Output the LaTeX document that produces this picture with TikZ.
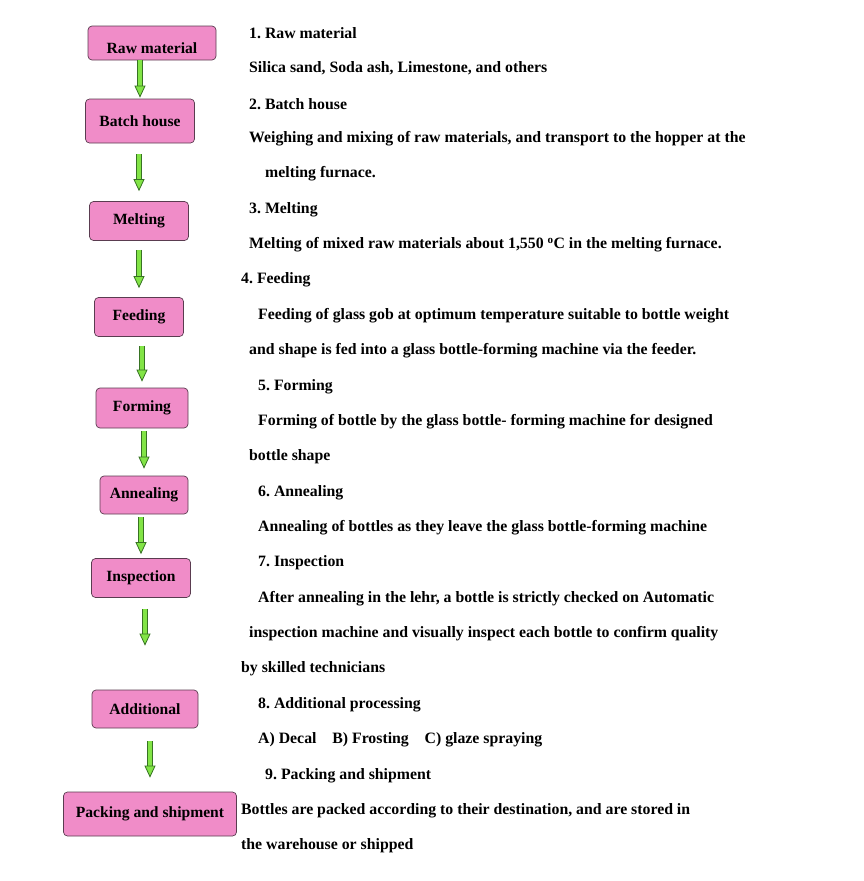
\documentclass[tikz,border=0pt]{standalone}
\usepackage{fontspec}
\setmainfont{Liberation Serif}
\usetikzlibrary{arrows.meta}
\definecolor{boxpink}{RGB}{240,140,200}
\definecolor{boxedge}{RGB}{90,60,80}
\definecolor{arrowfill}{RGB}{130,228,70}
\definecolor{arrowedge}{RGB}{55,115,35}
\frenchspacing

\begin{document}
\begin{tikzpicture}[x=1pt, y=-1pt,
    stage/.style={draw=boxedge, fill=boxpink, rounded corners=4pt, line width=0.7pt,
        inner sep=0pt, font=\fontsize{15.6}{18}\selectfont\bfseries},
    flow/.style={draw=arrowedge, line width=0.8pt, double=arrowfill, double distance=4pt,
        -{Triangle[length=12pt, width=11pt, fill=arrowfill]}},
    desc/.style={anchor=west, inner sep=0pt, font=\fontsize{15.8}{18}\selectfont\bfseries}]
\useasboundingbox (0,0) rectangle (863,881);
% process boxes
\node[stage, minimum width=128pt, minimum height=34pt, text height=21pt, text depth=0pt] (raw) at (152,43) {Raw material};
\node[stage, minimum width=109pt, minimum height=44pt] (batch) at (140,121) {Batch house};
\node[stage, minimum width=99pt, minimum height=39pt] (melt) at (139,221) {Melting};
\node[stage, minimum width=89pt, minimum height=39pt] (feed) at (139,317) {Feeding};
\node[stage, minimum width=92pt, minimum height=40pt] (form) at (142,408) {Forming};
\node[stage, minimum width=88pt, minimum height=38pt] (anneal) at (144,495) {Annealing};
\node[stage, minimum width=99pt, minimum height=39pt] (inspect) at (141,578) {Inspection};
\node[stage, minimum width=106pt, minimum height=38pt] (extra) at (145,709) {Additional};
\node[stage, minimum width=173pt, minimum height=44pt] (pack) at (150,814) {Packing and shipment};
% flow arrows
\foreach \a/\b/\s/\t in {raw/batch/0/1, batch/melt/11/10, melt/feed/9/9, feed/form/9/6,
    form/anneal/3/7, anneal/inspect/3/4, inspect/extra/11/44, extra/pack/13/14} {
    \draw[flow, shorten <=\s pt, shorten >=\t pt] (\a.south -| \b.north) -- (\b.north);
}
% description lines
\foreach \i/\x/\y/\txt in {
    1/249/33/{1. Raw material},
    2/249/68/{Silica sand, Soda ash, Limestone, and others},
    3/249/104/{2. Batch house},
    4/249/139/{Weighing and mixing of raw materials, and transport to the hopper at the},
    5/265/174/{melting furnace.},
    6/249/210/{3. Melting},
    7/249/245/{Melting of mixed raw materials about 1,550 \textsuperscript{o}C in the melting furnace.},
    8/241/280/{4. Feeding},
    9/258/316/{Feeding of glass gob at optimum temperature suitable to bottle weight},
    10/249/351/{and shape is fed into a glass bottle-forming machine via the feeder.},
    11/258/387/{5. Forming},
    12/258/422/{Forming of bottle by the glass bottle- forming machine for designed},
    13/249/457/{bottle shape},
    14/258/493/{6. Annealing},
    15/258/528/{Annealing of bottles as they leave the glass bottle-forming machine},
    16/258/563/{7. Inspection},
    17/258/599/{After annealing in the lehr, a bottle is strictly checked on Automatic},
    18/249/634/{inspection machine and visually inspect each bottle to confirm quality},
    19/241/669/{by skilled technicians},
    20/258/705/{8. Additional processing},
    21/258/740/{A) Decal\quad B) Frosting\quad C) glaze spraying},
    22/265/776/{9. Packing and shipment},
    23/241/811/{Bottles are packed according to their destination, and are stored in},
    24/241/846/{the warehouse or shipped}} {
    \node[desc] (line\i) at (\x,\y) {\txt};
}
\end{tikzpicture}
\end{document}
